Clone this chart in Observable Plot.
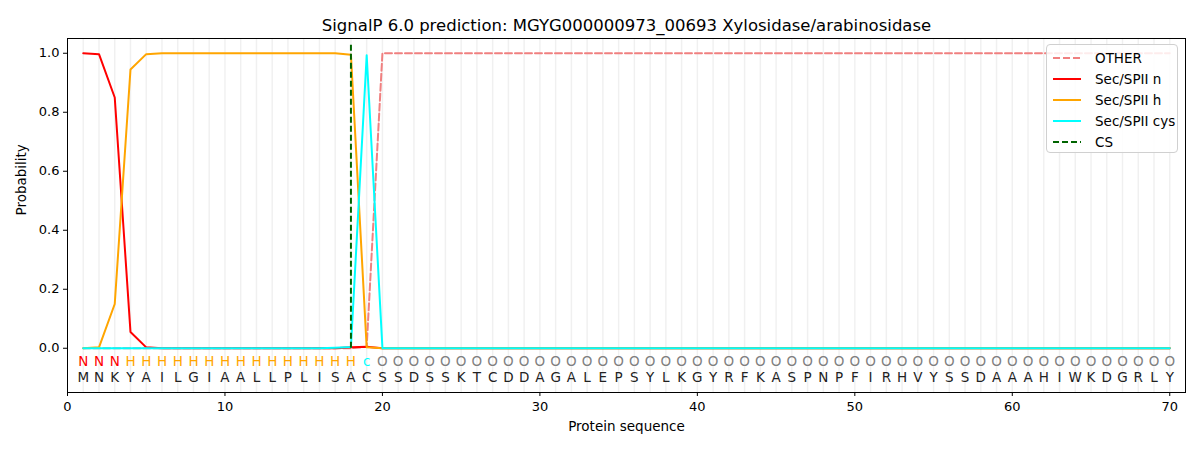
<!DOCTYPE html>
<html><head><meta charset="utf-8">
<script src="https://cdn.jsdelivr.net/npm/d3@7"></script>
<script src="https://cdn.jsdelivr.net/npm/@observablehq/plot@0.6"></script>
<style>
body{margin:0;background:#fff;font-family:"DejaVu Sans",sans-serif}
#wrap{position:relative;width:1200px;height:450px}
#legend{position:absolute;left:1046px;top:44px;width:130px;height:107px;border:1px solid #d0d0d0;border-radius:4px;background:rgba(255,255,255,0.85);font-size:13.5px;color:#000}
#legend .row{position:absolute;left:6px;height:20px;display:flex;align-items:center}
#legend svg{width:30px;height:10px;margin-right:12px}
</style>
</head><body><div id="wrap"></div>
<script>
const title = "SignalP 6.0 prediction: MGYG000000973_00693 Xylosidase/arabinosidase";
const residues = "MNKYAILGIAALLPLISACSSDSSKTCDDAGALEPSYLKGYRFKASPNPFIRHVYSSDAAAHIWKDGRLY".split("");
const regions = "NNNHHHHHHHHHHHHHHHcOOOOOOOOOOOOOOOOOOOOOOOOOOOOOOOOOOOOOOOOOOOOOOOOOOO".split("");
const csPos = 18;
const other = [0,0,0,0,0,0,0,0,0,0,
               0,0,0,0,0,0,0,0,0.005,1,
               1,1,1,1,1,1,1,1,1,1,
               1,1,1,1,1,1,1,1,1,1,
               1,1,1,1,1,1,1,1,1,1,
               1,1,1,1,1,1,1,1,1,1,
               1,1,1,1,1,1,1,1,1,1];
const secN = [1.0,0.997,0.85,0.055,0.003,0,0,0,0,0,
              0,0,0,0,0,0,0,0.003,0.005,0,
              0,0,0,0,0,0,0,0,0,0,
              0,0,0,0,0,0,0,0,0,0,
              0,0,0,0,0,0,0,0,0,0,
              0,0,0,0,0,0,0,0,0,0,
              0,0,0,0,0,0,0,0,0,0];
const secH = [0,0.003,0.15,0.945,0.997,1,1,1,1,1,
              1,1,1,1,1,1,1,0.995,0.003,0,
              0,0,0,0,0,0,0,0,0,0,
              0,0,0,0,0,0,0,0,0,0,
              0,0,0,0,0,0,0,0,0,0,
              0,0,0,0,0,0,0,0,0,0,
              0,0,0,0,0,0,0,0,0,0];
const secCys = [0,0,0,0,0,0,0,0,0,0,
                0,0,0,0,0,0,0.002,0.004,0.993,0,
                0,0,0,0,0,0,0,0,0,0,
                0,0,0,0,0,0,0,0,0,0,
                0,0,0,0,0,0,0,0,0,0,
                0,0,0,0,0,0,0,0,0,0,
                0,0,0,0,0,0,0,0,0,0];
const xTicks = [0,10,20,30,40,50,60,70];
const yTicks = [0,0.2,0.4,0.6,0.8,1.0];
const series = [
  {name:"OTHER", values:other, color:"#f08080", dash:"7,3"},
  {name:"Sec/SPII n", values:secN, color:"red", dash:null},
  {name:"Sec/SPII h", values:secH, color:"orange", dash:null},
  {name:"Sec/SPII cys", values:secCys, color:"cyan", dash:null}
];
const regionColor = {N:"red", H:"orange", c:"cyan", O:"#808080"};

const rows = residues.map((aa,i)=>({pos:i+1, aa, region:regions[i]}));

const marks = [
  Plot.ruleX(rows, {x:"pos", stroke:"#000", strokeOpacity:0.06, strokeWidth:1.5})
];
for (const s of series) {
  marks.push(Plot.line(rows, {x:"pos", y:(d,i)=>s.values[i], stroke:s.color, strokeWidth:2, strokeDasharray:s.dash ?? undefined}));
}
marks.push(
  Plot.ruleX([csPos], {x:d=>d, y1:0, y2:1.035, stroke:"#006400", strokeWidth:2, strokeDasharray:"6,3"}),
  Plot.text(rows, {x:"pos", y:()=>-0.047, text:"region", fill:d=>regionColor[d.region], fontSize:13.5}),
  Plot.text(rows, {x:"pos", y:()=>-0.1, text:"aa", fill:"#222", fontSize:13.5}),
  Plot.axisX({ticks:xTicks, tickFormat:d3.format("d"), tickSize:4, tickPadding:5, label:null, fontSize:13}),
  Plot.axisY({ticks:yTicks, tickFormat:d3.format(".1f"), tickSize:4, tickPadding:4, label:null, fontSize:13}),
  Plot.frame({stroke:"#000", strokeWidth:1}),
  Plot.text([title], {frameAnchor:"top", dy:-19, text:d=>d, fontSize:16.5, fill:"#000"}),
  Plot.text(["Protein sequence"], {frameAnchor:"bottom", dy:38, text:d=>d, fontSize:13.5, fill:"#000"}),
  Plot.text(["Probability"], {frameAnchor:"left", dx:-46, rotate:-90, text:d=>d, fontSize:13.5, fill:"#000"})
);

const chart = Plot.plot({
  width:1200, height:450,
  marginLeft:67, marginRight:15, marginTop:38, marginBottom:58,
  x:{domain:[0,71]},
  y:{domain:[-0.15,1.05]},
  style:{fontFamily:"DejaVu Sans, sans-serif", fontSize:"13px", background:"#fff", color:"#000"},
  marks
});
const wrap = document.getElementById("wrap");
wrap.appendChild(chart);

const legendItems = series.map(s=>({name:s.name, color:s.color, dash:s.dash}))
  .concat([{name:"CS", color:"#006400", dash:"6,3"}]);
const leg = document.createElement("div");
leg.id = "legend";
legendItems.forEach((it,i)=>{
  const r = document.createElement("div");
  r.className = "row";
  r.style.top = (3 + i*21) + "px";
  r.innerHTML = `<svg><line x1="0" y1="5" x2="28" y2="5" stroke="${it.color}" stroke-width="2" ${it.dash?`stroke-dasharray="${it.dash}"`:""}/></svg><span>${it.name}</span>`;
  leg.appendChild(r);
});
wrap.appendChild(leg);
</script></body></html>
